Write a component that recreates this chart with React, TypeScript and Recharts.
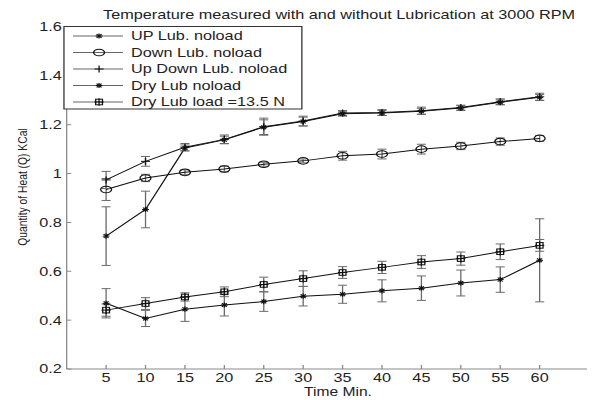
import { LineChart, Line, XAxis, YAxis, ErrorBar } from "recharts";

// time axis (minutes)
const times = [5, 10, 15, 20, 25, 30, 35, 40, 45, 50, 55, 60];

// series values + symmetric error (KCal)
const upLub = [0.744, 0.853, 1.105, 1.138, 1.19, 1.213, 1.245, 1.248, 1.255, 1.268, 1.292, 1.312];
const upLubErr = [0.12, 0.075, 0.012, 0.015, 0.03, 0.018, 0.01, 0.01, 0.012, 0.01, 0.01, 0.012];
const downLub = [0.935, 0.982, 1.005, 1.019, 1.038, 1.052, 1.073, 1.08, 1.1, 1.113, 1.131, 1.144];
const downLubErr = [0.045, 0.015, 0.01, 0.012, 0.008, 0.008, 0.018, 0.02, 0.02, 0.015, 0.015, 0.012];
const upDownLub = [0.974, 1.05, 1.108, 1.14, 1.192, 1.215, 1.248, 1.25, 1.257, 1.27, 1.294, 1.314];
const upDownLubErr = [0.035, 0.02, 0.015, 0.018, 0.035, 0.02, 0.01, 0.012, 0.015, 0.01, 0.012, 0.015];
const dryNoload = [0.469, 0.407, 0.445, 0.462, 0.476, 0.498, 0.506, 0.52, 0.531, 0.552, 0.566, 0.645];
const dryNoloadErr = [0.06, 0.033, 0.05, 0.045, 0.04, 0.04, 0.037, 0.045, 0.05, 0.053, 0.052, 0.17];
const dryLoad = [0.441, 0.468, 0.495, 0.516, 0.546, 0.57, 0.595, 0.616, 0.638, 0.652, 0.68, 0.706];
const dryLoadErr = [0.025, 0.024, 0.017, 0.02, 0.03, 0.032, 0.024, 0.025, 0.026, 0.027, 0.032, 0.024];

const xTicks = times;
const yTicks = [0.2, 0.4, 0.6, 0.8, 1, 1.2, 1.4, 1.6];

const legendLabels = [
  "UP Lub. noload",
  "Down Lub. noload",
  "Up Down Lub. noload",
  "Dry Lub noload",
  "Dry Lub load =13.5 N",
];

const rows = times.map((t, i) => ({
  t,
  upLub: upLub[i],
  upLubErr: upLubErr[i],
  downLub: downLub[i],
  downLubErr: downLubErr[i],
  upDownLub: upDownLub[i],
  upDownLubErr: upDownLubErr[i],
  dryNoload: dryNoload[i],
  dryNoloadErr: dryNoloadErr[i],
  dryLoad: dryLoad[i],
  dryLoadErr: dryLoadErr[i],
}));

// the reference picture is stretched sideways, so draw narrower and scale
const S = 1.3;
const W = 460;
const H = 400;
const FONT = '"Liberation Sans", Arial, sans-serif';
const INK = "#111";
const AXIS = "#8a8a8a";
const ERR = "#6a6a6a";

type M = { cx: number; cy: number };

function Star({ cx, cy }: M) {
  const r = 2.6;
  const d = 1.9;
  return (
    <g stroke={INK} strokeWidth={1}>
      <line x1={cx - r} y1={cy} x2={cx + r} y2={cy} />
      <line x1={cx} y1={cy - r} x2={cx} y2={cy + r} />
      <line x1={cx - d} y1={cy - d} x2={cx + d} y2={cy + d} />
      <line x1={cx - d} y1={cy + d} x2={cx + d} y2={cy - d} />
    </g>
  );
}

function Circ({ cx, cy }: M) {
  return <ellipse cx={cx} cy={cy} rx={4.2} ry={3.3} fill="none" stroke={INK} strokeWidth={1} />;
}

function Plus({ cx, cy }: M) {
  const r = 3.5;
  return (
    <g stroke={INK} strokeWidth={1}>
      <line x1={cx - r} y1={cy} x2={cx + r} y2={cy} />
      <line x1={cx} y1={cy - r} x2={cx} y2={cy + r} />
    </g>
  );
}

function SqPlus({ cx, cy }: M) {
  return (
    <g stroke={INK} strokeWidth={1} fill="none">
      <rect x={cx - 2.6} y={cy - 2.8} width={5.2} height={5.6} />
      <line x1={cx - 3.6} y1={cy} x2={cx + 3.6} y2={cy} />
      <line x1={cx} y1={cy - 3.8} x2={cx} y2={cy + 3.8} />
    </g>
  );
}

const markers = [Star, Circ, Plus, Star, SqPlus];

function dotOf(Mk: (p: M) => any, tag: string) {
  return (p: any) => <Mk key={`${tag}${p.index}`} cx={p.cx} cy={p.cy} />;
}

function Overlay() {
  const bx = 49.2;
  const by = 26.5;
  return (
    <svg
      width={W}
      height={H}
      style={{ position: "absolute", left: 0, top: 0, pointerEvents: "none" }}
      fontFamily={FONT}
    >
      <text x={260.8} y={19} textAnchor="middle" fontSize={12.5} fill="#222">
        Temperature measured with and without Lubrication at 3000 RPM
      </text>
      <text x={260} y={396.5} textAnchor="middle" fontSize={12} fill="#222">
        Time Min.
      </text>
      <text
        x={0}
        y={0}
        transform="translate(20.5, 187) rotate(-90)"
        textAnchor="middle"
        fontSize={10.3}
        fill="#222"
      >
        Quantity of Heat (Q) KCal
      </text>
      <rect x={bx} y={by} width={183} height={82.5} fill="#fff" stroke="#333" strokeWidth={1} />
      {legendLabels.map((lab, i) => {
        const y = 36 + i * 16.5;
        const Mk = markers[i];
        return (
          <g key={lab}>
            <line x1={56.2} y1={y} x2={94.6} y2={y} stroke="#666" strokeWidth={1} />
            <Mk cx={76.2} cy={y} />
            <text x={100.8} y={y + 4.5} fontSize={12.5} fill="#222">
              {lab}
            </text>
          </g>
        );
      })}
    </svg>
  );
}

export default function App() {
  return (
    <div
      style={{
        position: "absolute",
        left: 0,
        top: 0,
        width: 598,
        height: 400,
        background: "#fff",
        overflow: "hidden",
      }}
    >
      <div
        style={{
          position: "relative",
          width: W,
          height: H,
          transform: `scaleX(${S})`,
          transformOrigin: "0 0",
        }}
      >
        <LineChart width={W} height={H} data={rows} margin={{ top: 27, right: 8.5, bottom: 0, left: 0 }}>
          <XAxis
            dataKey="t"
            type="number"
            domain={[0, 66]}
            ticks={xTicks}
            interval={0}
            height={31}
            stroke={AXIS}
            tickSize={-4}
            tickMargin={8.5}
            tick={{ fill: "#222", fontSize: 12.5, fontFamily: FONT }}
          />
          <YAxis
            type="number"
            domain={[0.2, 1.6]}
            ticks={yTicks}
            interval={0}
            width={51.3}
            stroke={AXIS}
            tickSize={-3.5}
            tickMargin={7.3}
            tick={{ fill: "#222", fontSize: 12.5, fontFamily: FONT }}
          />
          <Line dataKey="upLub" stroke={INK} strokeWidth={1} dot={dotOf(Star, "a")} isAnimationActive={false}>
            <ErrorBar dataKey="upLubErr" direction="y" width={3.5} stroke={ERR} strokeWidth={1} />
          </Line>
          <Line dataKey="downLub" stroke={INK} strokeWidth={1} dot={dotOf(Circ, "b")} isAnimationActive={false}>
            <ErrorBar dataKey="downLubErr" direction="y" width={3.5} stroke={ERR} strokeWidth={1} />
          </Line>
          <Line dataKey="upDownLub" stroke={INK} strokeWidth={1} dot={dotOf(Plus, "c")} isAnimationActive={false}>
            <ErrorBar dataKey="upDownLubErr" direction="y" width={3.5} stroke={ERR} strokeWidth={1} />
          </Line>
          <Line dataKey="dryNoload" stroke={INK} strokeWidth={1} dot={dotOf(Star, "d")} isAnimationActive={false}>
            <ErrorBar dataKey="dryNoloadErr" direction="y" width={3.5} stroke={ERR} strokeWidth={1} />
          </Line>
          <Line dataKey="dryLoad" stroke={INK} strokeWidth={1} dot={dotOf(SqPlus, "e")} isAnimationActive={false}>
            <ErrorBar dataKey="dryLoadErr" direction="y" width={3.5} stroke={ERR} strokeWidth={1} />
          </Line>
        </LineChart>
        <Overlay />
      </div>
    </div>
  );
}
